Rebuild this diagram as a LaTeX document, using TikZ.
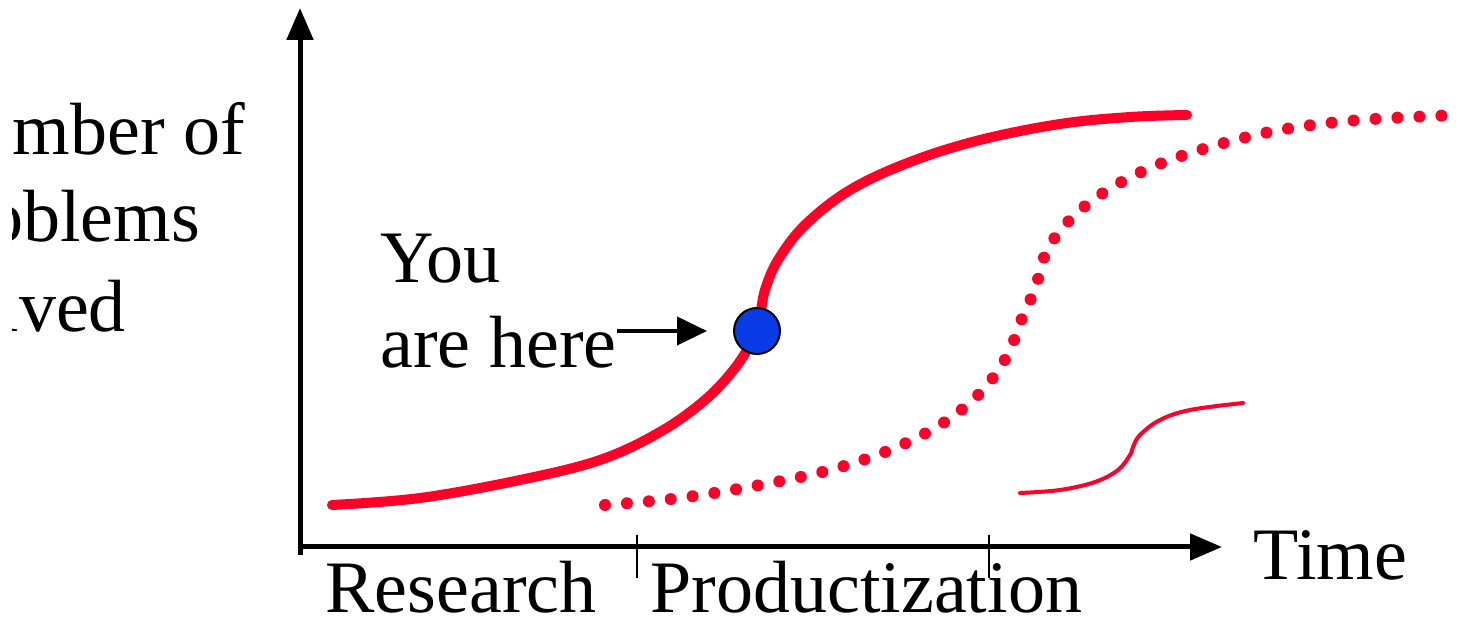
\documentclass[tikz,border=0pt]{standalone}
\usepackage{fontspec}
\setmainfont{Liberation Serif}
\usetikzlibrary{arrows.meta,calc}
\definecolor{curvered}{RGB}{255,0,40}
\definecolor{dotblue}{RGB}{10,60,230}

\begin{document}
\begin{tikzpicture}[x=0.5pt,y=-0.5pt,
  lbl/.style={inner sep=0pt,font=\fontsize{37}{42}\selectfont},
  axis/.style={line width=2.5pt,-{Triangle[length=16pt,width=13pt]}},
  tick/.style={line width=1pt},
  growth/.style={curvered,line width=5pt,line cap=round,line join=round}]
\useasboundingbox (0,0) rectangle (1474,619);
% axes
\coordinate (origin) at (300,555);
\coordinate (ytop) at (300,8);
\coordinate (xstart) at (298,547);
\coordinate (xend) at (1222,547);
\draw[axis] (origin) -- (ytop);
\draw[axis] (xstart) -- (xend);
\draw[tick] (637,535) -- (637,578);
\draw[tick] (989,535) -- (989,578);
% y label, cut by its box
\begin{scope}
\clip (12,0) rectangle (290,619);
\node[lbl,anchor=base west] (ylabA) at (-78,155) {Number of};
\node[lbl,anchor=base west] (ylabB) at (-80,242) {Problems};
\node[lbl,anchor=base west] (ylabC) at (-80,332) {Solved};
\end{scope}
\node[lbl,anchor=base west] (time) at (1253,580) {Time};
\node[lbl,anchor=base west] (research) at (325,613) {Research};
\node[lbl,anchor=base west] (product) at (650,613) {Productization};
\node[lbl,anchor=base west] (you) at (380,283) {You};
\node[lbl,anchor=base west] (here) at (380,368) {are here};
% curves
\draw[growth] plot[smooth,tension=0.6] coordinates {(332,505) (420,498) (520,480) (600,460) (660,432) (705,400) (735,368) (752,340) (760,315) (765,290) (778,260) (805,225) (850,190) (910,162) (980,140) (1060,124) (1130,117) (1187,115)};
\draw[growth,line width=6pt,dash pattern=on 0pt off 11pt] plot[smooth,tension=0.6] coordinates {(605,505) (680,498) (760,485) (830,470) (890,450) (940,425) (975,398) (1000,368) (1015,338) (1025,310) (1035,290) (1045,255) (1065,225) (1100,195) (1150,168) (1210,147) (1280,130) (1360,120) (1460,115)};
\draw[growth,line width=2pt] plot[smooth,tension=0.6] coordinates {(1020,493) (1060,490) (1095,482) (1118,470) (1130,455) (1133,447) (1140,435) (1160,420) (1190,410) (1243,403)};
% you are here
\node[circle,draw=black,line width=1pt,fill=dotblue,minimum size=23pt,inner sep=0pt] (dot) at (757,331) {};
\draw[line width=2pt,-{Triangle[length=15pt,width=14pt]},shorten >=13pt] (here.east |- dot.west) -- (dot.west);
\end{tikzpicture}
\end{document}
